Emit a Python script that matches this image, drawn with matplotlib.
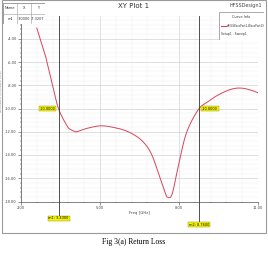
import numpy as np
import matplotlib.pyplot as plt
from matplotlib.patches import Rectangle

# ── Data (Freq in GHz, dB(S11)) ──────────────────────────────
FREQ = [2.60, 2.92, 2.98, 3.20, 3.43, 3.75, 3.88, 4.07, 4.18, 4.52,
        5.03, 5.54, 6.05, 6.56, 6.94, 7.26, 7.48, 7.58, 7.74, 7.97,
        8.28, 8.73, 9.11, 9.50, 10.00, 10.39, 10.77, 11.03]
S11_DB = [-3.08, -5.40, -5.95, -8.00, -10.05, -11.50, -11.80, -12.00, -11.95, -11.70,
          -11.49, -11.64, -11.98, -12.70, -13.85, -15.86, -17.29, -17.64, -17.35, -15.00,
          -12.12, -10.11, -9.40, -8.82, -8.33, -8.25, -8.45, -8.68]

X_TICKS = [2.0, 5.0, 8.0, 11.0]
Y_TICKS = [-4, -6, -8, -10, -12, -14, -16, -18]

MARKER_F = [3.43, 8.76]
MARKER_DB = [-10.0, -10.0]
TABLE_ROWS = [['Name', 'X', 'Y'], ['m1', '3.0000', '-7.3207']]

W, H = 268, 254
fig = plt.figure(figsize=(W / 100, H / 100), dpi=100)

def fx(px):
    return px / W

def fy(py):
    return 1 - py / H

def catmull_rom(xs, ys, n=20):
    # smooth curve through the points (centripetal-free, uniform Catmull-Rom)
    p = np.column_stack([xs, ys])
    p = np.vstack([p[0], p, p[-1]])
    out = []
    t = np.linspace(0, 1, n, endpoint=False)[:, None]
    for i in range(1, len(p) - 2):
        p0, p1, p2, p3 = p[i - 1], p[i], p[i + 1], p[i + 2]
        seg = 0.5 * (2 * p1 + (-p0 + p2) * t + (2 * p0 - 5 * p1 + 4 * p2 - p3) * t ** 2
                     + (-p0 + 3 * p1 - 3 * p2 + p3) * t ** 3)
        out.append(seg)
    out.append(p[-2][None, :])
    out = np.vstack(out)
    return out[:, 0], out[:, 1]

# screenshot frame
fig.patches.append(Rectangle((fx(2), fy(233)), fx(264), 233 / H, transform=fig.transFigure,
                             fill=False, edgecolor='#9a9a9a', linewidth=0.8))

ax = fig.add_axes([fx(21), fy(201.5), fx(237), (201.5 - 15.5) / H])
ax.set_xlim(2.0, 11.0)
ax.set_ylim(-18, -2)

cx, cy = catmull_rom(FREQ, S11_DB)
ax.plot(cx, cy, color='#d9435a', linewidth=0.7, zorder=3)

ax.set_xticks(X_TICKS)
ax.set_xticklabels([f'{v:.2f}' for v in X_TICKS])
ax.set_xticks(np.arange(2.0, 11.01, 0.6), minor=True)
ax.set_yticks(Y_TICKS)
ax.set_yticklabels([f'{v:.2f}' for v in Y_TICKS])
ax.set_yticks(np.arange(-18, -1.9, 0.4), minor=True)
ax.tick_params(labelsize=2.6, length=2, width=0.4, pad=1, colors='#444444')
ax.tick_params(which='minor', length=1, width=0.3)
ax.grid(True, which='major', color='#c8c8c8', linewidth=0.4)
ax.grid(True, which='minor', color='#ececec', linewidth=0.3)
for s in ['top', 'right']:
    ax.spines[s].set_visible(False)
for s in ['left', 'bottom']:
    ax.spines[s].set_linewidth(0.5)
    ax.spines[s].set_color('#555555')
ax.set_xlabel('Freq [GHz]', fontsize=2.8, labelpad=1, color='#444444')
ax.set_ylabel('dB(S(WavePort1,WavePort1))', fontsize=2.2, color='#888888')
ax.yaxis.set_label_coords(-0.078, 0.6)

# marker lines and yellow boxes
box = dict(boxstyle='square,pad=0.2', facecolor='#f5f500', edgecolor='#888800', linewidth=0.3)
drop = [0.09, 0.125]
for i, (mf, md) in enumerate(zip(MARKER_F, MARKER_DB)):
    ax.axvline(mf, ymin=-drop[i], ymax=1, color='#333333', linewidth=0.6, clip_on=False, zorder=4)
    ax.text(mf, -18 - drop[i] * 16, f'm{i + 1}: {mf:.4f}', fontsize=2.5, ha='center',
            va='center', bbox=box, zorder=5, clip_on=False)
    off = -0.12 if i == 0 else 0.12
    ax.text(mf + off, md, f'{md:.4f}', fontsize=2.5, ha='right' if i == 0 else 'left',
            va='center', bbox=box, zorder=5)

# titles
fig.text(fx(134), fy(6), 'XY Plot 1', fontsize=5, ha='center', va='center',
         family='Liberation Sans Narrow', color='#333333')
fig.text(fx(262), fy(6), 'HFSSDesign1', fontsize=3.5, ha='right', va='center',
         family='Liberation Sans Narrow', color='#444444')

# marker table top left
tab = fig.add_axes([fx(3), fy(24), fx(42), 21 / H])
tab.set_xlim(0, 3)
tab.set_ylim(0, 2)
tab.axis('off')
tab.add_patch(Rectangle((0, 0), 3, 2, facecolor='white', edgecolor='#777777', linewidth=0.5))
for c in [1, 2]:
    tab.plot([c, c], [0, 2], color='#999999', linewidth=0.4)
tab.plot([0, 3], [1, 1], color='#999999', linewidth=0.4)
for r, row in enumerate(TABLE_ROWS):
    for c, txt in enumerate(row):
        tab.text(c + 0.5, 1.5 - r, txt, fontsize=2.5, ha='center', va='center', color='#333333')

# curve info box
leg = fig.add_axes([fx(219), fy(40), fx(45), 28 / H])
leg.set_xlim(0, 1)
leg.set_ylim(0, 1)
leg.axis('off')
leg.add_patch(Rectangle((0, 0), 1, 1, facecolor='white', edgecolor='#888888', linewidth=0.5))
leg.text(0.5, 0.82, 'Curve Info', fontsize=2.5, ha='center', va='center', color='#333333')
leg.plot([0.04, 0.16], [0.5, 0.5], color='#d9435a', linewidth=0.8)
leg.text(0.18, 0.5, 'dB(S(WavePort1,WavePort1))', fontsize=1.9, ha='left', va='center',
         color='#333333', family='Liberation Sans Narrow')
leg.text(0.04, 0.22, 'Setup1 : Sweep1', fontsize=2.2, ha='left', va='center',
         color='#333333', family='Liberation Sans Narrow')

fig.text(0.5, fy(242), 'Fig 3(a) Return Loss', fontsize=5.5, ha='center', va='center',
         family='Liberation Serif')

fig.savefig('out.png', dpi=100)
